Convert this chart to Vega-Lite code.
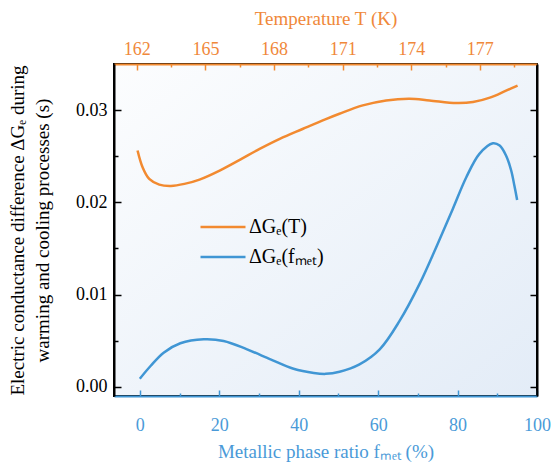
{
  "$schema": "https://vega.github.io/schema/vega-lite/v6.json",
  "width": 423,
  "height": 332,
  "autosize": "none",
  "padding": {"left": 114, "top": 64, "right": 14, "bottom": 70},
  "background": "white",
  "config": {
    "font": "Liberation Serif",
    "style": {"guide-label": {"font": "Liberation Serif"}, "guide-title": {"font": "Liberation Serif"}},
    "view": {
      "stroke": "black",
      "strokeWidth": 2,
      "fill": {"gradient": "linear", "x1": 0, "y1": 0, "x2": 1, "y2": 1, "stops": [{"offset": 0, "color": "#fcfdfe"}, {"offset": 1, "color": "#e3ecf7"}]}
    },
    "axis": {"grid": false, "labelFont": "Liberation Serif", "titleFont": "Liberation Serif", "labelFontSize": 18, "titleFontSize": 19, "titleFontWeight": "normal", "domainWidth": 2, "tickWidth": 1.5},
    "legend": {"title": null, "symbolType": "stroke", "symbolSize": 2025, "symbolStrokeWidth": 2.5, "labelFont": "Liberation Serif", "labelFontSize": 20, "labelColor": "black", "labelOffset": 2, "padding": 0}
  },
  "resolve": {"scale": {"x": "independent", "y": "independent", "color": "independent"}, "axis": {"x": "independent", "y": "independent"}, "legend": {"color": "independent"}},
  "layer": [
    {
      "data": {"values": [
        {"series": "ΔGₑ(T)", "T": 162.03, "G": 0.02562},
        {"series": "ΔGₑ(T)", "T": 162.25, "G": 0.02380},
        {"series": "ΔGₑ(T)", "T": 162.54, "G": 0.02254},
        {"series": "ΔGₑ(T)", "T": 162.98, "G": 0.02192},
        {"series": "ΔGₑ(T)", "T": 163.49, "G": 0.02178},
        {"series": "ΔGₑ(T)", "T": 164.08, "G": 0.02200},
        {"series": "ΔGₑ(T)", "T": 164.74, "G": 0.02247},
        {"series": "ΔGₑ(T)", "T": 165.62, "G": 0.02345},
        {"series": "ΔGₑ(T)", "T": 166.50, "G": 0.02461},
        {"series": "ΔGₑ(T)", "T": 167.37, "G": 0.02580},
        {"series": "ΔGₑ(T)", "T": 168.25, "G": 0.02689},
        {"series": "ΔGₑ(T)", "T": 169.27, "G": 0.02798},
        {"series": "ΔGₑ(T)", "T": 170.24, "G": 0.02900},
        {"series": "ΔGₑ(T)", "T": 170.86, "G": 0.02961},
        {"series": "ΔGₑ(T)", "T": 171.88, "G": 0.03051},
        {"series": "ΔGₑ(T)", "T": 172.90, "G": 0.03105},
        {"series": "ΔGₑ(T)", "T": 173.93, "G": 0.03124},
        {"series": "ΔGₑ(T)", "T": 174.80, "G": 0.03105},
        {"series": "ΔGₑ(T)", "T": 175.98, "G": 0.03076},
        {"series": "ΔGₑ(T)", "T": 176.70, "G": 0.03087},
        {"series": "ΔGₑ(T)", "T": 177.44, "G": 0.03135},
        {"series": "ΔGₑ(T)", "T": 178.17, "G": 0.03214},
        {"series": "ΔGₑ(T)", "T": 178.65, "G": 0.03265}
      ]},
      "mark": {"type": "line", "strokeWidth": 2.5, "interpolate": "catmull-rom", "clip": true},
      "encoding": {
        "x": {"field": "T", "type": "quantitative",
          "scale": {"domain": [161, 179.5], "nice": false, "zero": false},
          "axis": {"orient": "top", "title": "Temperature T (K)", "titleColor": "#f0883a", "labelColor": "#f0883a", "domainColor": "#f28a30", "tickColor": "#f28a30",
            "labelFont": "Liberation Serif", "titleFont": "Liberation Serif",
            "values": [162, 163.5, 165, 166.5, 168, 169.5, 171, 172.5, 174, 175.5, 177, 178.5],
            "labelExpr": "datum.value % 3 == 0 ? format(datum.value, 'd') : ''",
            "tickSize": {"condition": {"test": "datum.value % 3 != 0", "value": -3}, "value": -6},
            "labelPadding": 12, "titlePadding": 12, "labelFlush": false}
        },
        "y": {"field": "G", "type": "quantitative",
          "scale": {"domain": [-0.001, 0.035], "nice": false, "zero": false},
          "axis": {"orient": "left", "title": ["Electric conductance difference ΔGₑ during", "warming and cooling processes (s)"],
            "titleColor": "black", "labelColor": "black", "domainColor": "black", "tickColor": "black",
            "labelFont": "Liberation Serif", "titleFont": "Liberation Serif",
            "values": [0, 0.005, 0.01, 0.015, 0.02, 0.025, 0.03],
            "labelExpr": "abs(datum.value*100 - round(datum.value*100)) < 0.001 ? format(datum.value, '.2f') : ''",
            "tickSize": {"condition": {"test": "abs(datum.value*100 - round(datum.value*100)) > 0.001", "value": -4}, "value": -7},
            "labelPadding": 14, "titlePadding": 23, "titleLineHeight": 25}
        },
        "color": {"field": "series", "type": "nominal",
          "scale": {"domain": ["ΔGₑ(T)"], "range": ["#f28a30"]},
          "legend": {"orient": "none", "legendX": 85, "legendY": 139}
        }
      }
    },
    {
      "data": {"values": [
        {"series": "ΔGₑ(fₘₑₜ)", "f": 0.0, "G": 0.00087},
        {"series": "ΔGₑ(fₘₑₜ)", "f": 2.7, "G": 0.00225},
        {"series": "ΔGₑ(fₘₑₜ)", "f": 6.0, "G": 0.00370},
        {"series": "ΔGₑ(fₘₑₜ)", "f": 10.2, "G": 0.00472},
        {"series": "ΔGₑ(fₘₑₜ)", "f": 16.1, "G": 0.00515},
        {"series": "ΔGₑ(fₘₑₜ)", "f": 21.1, "G": 0.00497},
        {"series": "ΔGₑ(fₘₑₜ)", "f": 27.0, "G": 0.00406},
        {"series": "ΔGₑ(fₘₑₜ)", "f": 32.9, "G": 0.00298},
        {"series": "ΔGₑ(fₘₑₜ)", "f": 38.7, "G": 0.00196},
        {"series": "ΔGₑ(fₘₑₜ)", "f": 43.8, "G": 0.00150},
        {"series": "ΔGₑ(fₘₑₜ)", "f": 46.8, "G": 0.00140},
        {"series": "ΔGₑ(fₘₑₜ)", "f": 50.3, "G": 0.00163},
        {"series": "ΔGₑ(fₘₑₜ)", "f": 55.3, "G": 0.00243},
        {"series": "ΔGₑ(fₘₑₜ)", "f": 60.4, "G": 0.00406},
        {"series": "ΔGₑ(fₘₑₜ)", "f": 65.4, "G": 0.00714},
        {"series": "ΔGₑ(fₘₑₜ)", "f": 70.4, "G": 0.01113},
        {"series": "ΔGₑ(fₘₑₜ)", "f": 74.6, "G": 0.01511},
        {"series": "ΔGₑ(fₘₑₜ)", "f": 78.8, "G": 0.01928},
        {"series": "ΔGₑ(fₘₑₜ)", "f": 82.2, "G": 0.02272},
        {"series": "ΔGₑ(fₘₑₜ)", "f": 85.5, "G": 0.02526},
        {"series": "ΔGₑ(fₘₑₜ)", "f": 88.9, "G": 0.02641},
        {"series": "ΔGₑ(fₘₑₜ)", "f": 90.6, "G": 0.02616},
        {"series": "ΔGₑ(fₘₑₜ)", "f": 92.2, "G": 0.02508},
        {"series": "ΔGₑ(fₘₑₜ)", "f": 93.5, "G": 0.02345},
        {"series": "ΔGₑ(fₘₑₜ)", "f": 94.3, "G": 0.02182},
        {"series": "ΔGₑ(fₘₑₜ)", "f": 95.0, "G": 0.02026}
      ]},
      "mark": {"type": "line", "strokeWidth": 2.5, "interpolate": "catmull-rom", "clip": true},
      "encoding": {
        "x": {"field": "f", "type": "quantitative",
          "scale": {"domain": [-6.5, 100], "nice": false, "zero": false},
          "axis": {"orient": "bottom", "title": "Metallic phase ratio fₘₑₜ (%)", "titleColor": "#4a9ad8", "labelColor": "#4a9ad8", "domainColor": "#4096d4", "tickColor": "#4096d4",
            "labelFont": "Liberation Serif", "titleFont": "Liberation Serif",
            "values": [0, 10, 20, 30, 40, 50, 60, 70, 80, 90, 100],
            "labelExpr": "datum.value % 20 == 0 ? format(datum.value, 'd') : ''",
            "tickSize": {"condition": {"test": "datum.value % 20 != 0", "value": -3}, "value": -6},
            "labelPadding": 26, "titlePadding": 8, "labelFlush": false}
        },
        "y": {"field": "G", "type": "quantitative",
          "scale": {"domain": [-0.001, 0.035], "nice": false, "zero": false},
          "axis": {"orient": "right", "title": null, "labels": true, "labelExpr": "''", "ticks": true, "domain": true, "domainColor": "black", "tickColor": "black", "zindex": 1,
            "values": [0, 0.005, 0.01, 0.015, 0.02, 0.025, 0.03],
            "tickSize": {"condition": {"test": "abs(datum.value*100 - round(datum.value*100)) > 0.001", "value": -4}, "value": -7}}
        },
        "color": {"field": "series", "type": "nominal",
          "scale": {"domain": ["ΔGₑ(fₘₑₜ)"], "range": ["#4096d4"]},
          "legend": {"orient": "none", "legendX": 85, "legendY": 169}
        }
      }
    }
  ]
}
